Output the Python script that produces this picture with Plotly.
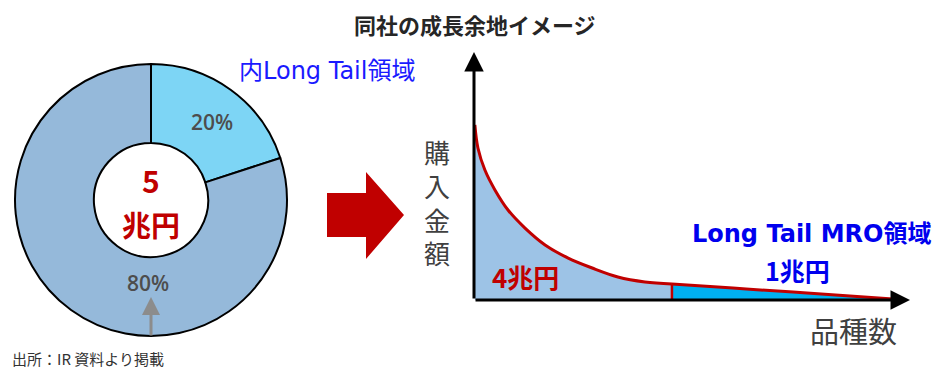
import plotly.graph_objects as go

W, H = 936, 371

# ---- data ----
pie_labels = ["Long Tail", "その他"]
pie_values = [20, 80]
pie_colors = ["#7DD5F5", "#95B9DA"]
pie_text = ["20%", "80%"]
total_label = ["5", "兆円"]
y_title_chars = ["購", "入", "金", "額"]

# long-tail curve (x: 品種数, y: 購入金額), arbitrary units 0-100
curve_x = [0.2, 0.9, 2.5, 4.8, 7.8, 11.7, 16.3, 21.6, 27.1, 33.0, 39.2, 45.4]
curve_y = [70.6, 61.3, 52.4, 44.4, 36.3, 29.0, 22.2, 16.9, 12.9, 9.3, 7.3, 6.5]
tail_x = [45.4, 59.4, 73.2, 86.2, 96.1]
tail_y = [6.5, 4.8, 3.2, 1.6, 0.4]

FONT = "Noto Sans CJK JP"


def px(x):
    return x / W


def py(y):
    return 1 - y / H


fig = go.Figure()

# ---- donut ----
fig.add_trace(go.Pie(
    labels=pie_labels, values=pie_values, sort=False, direction="clockwise",
    rotation=0, hole=0.42,
    marker=dict(colors=pie_colors, line=dict(color="black", width=2)),
    textinfo="none", hoverinfo="skip", showlegend=False,
    domain=dict(x=[px(15), px(287)], y=[py(336), py(64)]),
))

# ---- long tail curve ----
fig.add_trace(go.Scatter(x=curve_x, y=curve_y, mode="lines", fill="tozeroy",
                         fillcolor="#9DC3E6", line=dict(color="#C00000", width=3, shape="spline"),
                         hoverinfo="skip", showlegend=False))
fig.add_trace(go.Scatter(x=tail_x, y=tail_y, mode="lines", fill="tozeroy",
                         fillcolor="#00B0F0", line=dict(color="#C00000", width=3, shape="spline"),
                         hoverinfo="skip", showlegend=False))
fig.add_trace(go.Scatter(x=[tail_x[0], tail_x[0]], y=[0, tail_y[0]], mode="lines",
                         line=dict(color="#C00000", width=2.5),
                         hoverinfo="skip", showlegend=False))

annotations = []
# axes arrows
annotations.append(dict(x=0, y=100, ax=0, ay=0, xref="x", yref="y", axref="x", ayref="y",
                        showarrow=True, arrowhead=2, arrowsize=1.3, arrowwidth=3,
                        arrowcolor="black", text="", standoff=0, startstandoff=0))
annotations.append(dict(x=100, y=0, ax=0, ay=0, xref="x", yref="y", axref="x", ayref="y",
                        showarrow=True, arrowhead=2, arrowsize=1.3, arrowwidth=3,
                        arrowcolor="black", text="", standoff=0, startstandoff=0))

# gray arrow under 80%
annotations.append(dict(x=px(151), y=py(297), ax=0, ay=40, xref="paper", yref="paper",
                        axref="pixel", ayref="pixel", showarrow=True, arrowhead=2, arrowsize=1.2,
                        arrowwidth=3, arrowcolor="#8C8C8C", text=""))


def txt(x, y, s, size, color, bold=False, weight=None, family=FONT, **kw):
    w = weight if weight is not None else (700 if bold else 400)
    d = dict(x=px(x), y=py(y), xref="paper", yref="paper", text=s, showarrow=False,
             font=dict(size=size, color=color, family=family, weight=w),
             xanchor="center", yanchor="middle")
    d.update(kw)
    annotations.append(d)


txt(475, 24, "同社の成長余地イメージ", 22, "#262626", bold=True)
txt(212, 122, pie_text[0], 21, "#4D4D4D", weight=600, family="Open Sans")
txt(148, 283, pie_text[1], 21, "#4D4D4D", weight=600, family="Open Sans")
txt(151, 180, total_label[0], 30, "#C00000", bold=True)
txt(151, 224, total_label[1], 29, "#C00000", bold=True)
txt(327, 71, "内Long Tail領域", 24, "#1A1AFF", family="DejaVu Sans, " + FONT)
txt(437, 202, "<br>".join(y_title_chars), 26, "#404040")
txt(853, 330, "品種数", 29, "#404040")
txt(525, 276, "4兆円", 26, "#C00000", bold=True)
txt(811, 234, "Long Tail MRO領域", 24, "#0000EE", bold=True, family="DejaVu Sans, " + FONT)
txt(797, 270, "1兆円", 25, "#0000EE", bold=True)
txt(10, 358, "出所：IR 資料より掲載", 15, "#333333", xanchor="left")

# big red arrow
arrow_path = (f"M {px(327)} {py(193)} L {px(366)} {py(193)} L {px(366)} {py(172)} "
              f"L {px(404)} {py(215)} L {px(366)} {py(259)} L {px(366)} {py(237)} "
              f"L {px(327)} {py(237)} Z")
shapes = [dict(type="path", path=arrow_path, xref="paper", yref="paper",
               fillcolor="#C00000", line=dict(width=0))]

fig.update_layout(
    width=W, height=H, margin=dict(l=0, r=0, t=0, b=0),
    paper_bgcolor="white", plot_bgcolor="rgba(0,0,0,0)",
    xaxis=dict(domain=[px(474), px(910)], range=[0, 100], visible=False, fixedrange=True),
    yaxis=dict(domain=[py(300), py(52)], range=[0, 100], visible=False, fixedrange=True),
    annotations=annotations, shapes=shapes, showlegend=False,
    font=dict(family=FONT),
)

fig.write_html("out.html")
